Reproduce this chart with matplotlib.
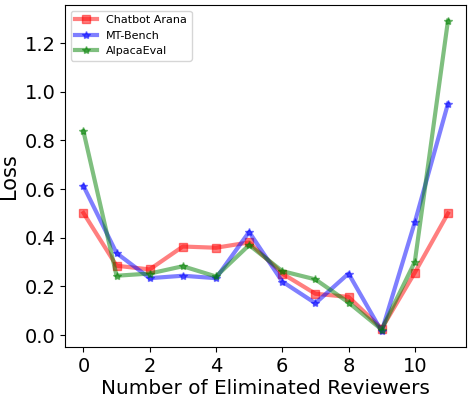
import matplotlib
matplotlib.use("Agg")
import matplotlib.pyplot as plt

x = list(range(12))
chatbot_arena = [0.502, 0.285, 0.270, 0.364, 0.359, 0.381, 0.253, 0.170, 0.157, 0.027, 0.257, 0.500]
mt_bench = [0.613, 0.337, 0.234, 0.244, 0.234, 0.424, 0.220, 0.131, 0.253, 0.015, 0.464, 0.951]
alpaca_eval = [0.838, 0.244, 0.253, 0.283, 0.241, 0.370, 0.263, 0.229, 0.134, 0.023, 0.301, 1.292]

fig = plt.figure(figsize=(4.69, 3.95), dpi=100)
ax = fig.add_axes([0.139, 0.1215, 0.855, 0.8655])
ax.plot(x, chatbot_arena, color='red', marker='s', lw=3, alpha=0.5, ms=6, label='Chatbot Arana')
ax.plot(x, mt_bench, color='blue', marker='*', lw=3, alpha=0.5, ms=6, label='MT-Bench')
ax.plot(x, alpaca_eval, color='green', marker='*', lw=3, alpha=0.5, ms=6, label='AlpacaEval')
ax.set_xticks([0, 2, 4, 6, 8, 10])
ax.tick_params(labelsize=14)
ax.set_xlabel('Number of Eliminated Reviewers', fontsize=14.4, labelpad=2.5)
ax.set_ylabel('Loss', fontsize=15)
ax.legend(loc='upper left', fontsize=8)
fig.savefig('out.png', dpi=100)
